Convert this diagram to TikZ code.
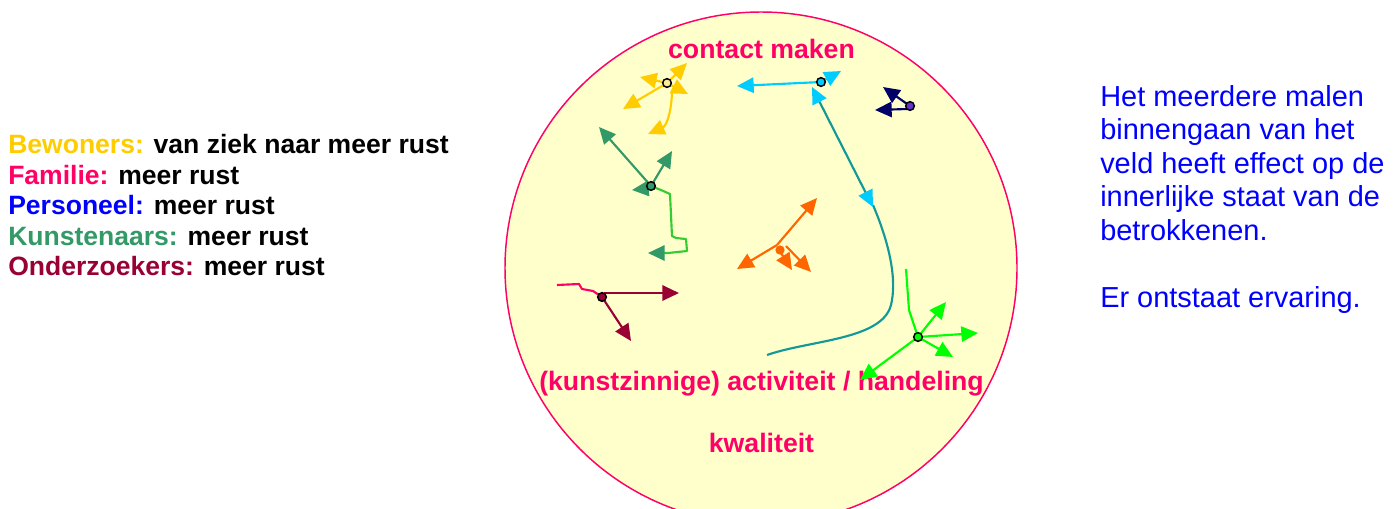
\documentclass[tikz,border=0pt]{standalone}
\usepackage{fontspec}
\setmainfont{Liberation Sans}
\usetikzlibrary{arrows.meta}
\usetikzlibrary{positioning}
\definecolor{roze}{HTML}{FF0066}
\definecolor{geel}{HTML}{FFCC00}
\definecolor{blauw}{HTML}{0000FF}
\definecolor{kunstgroen}{HTML}{339966}
\definecolor{bordeaux}{HTML}{990033}
\definecolor{veldgeel}{HTML}{FFFFCC}
\definecolor{cyaan}{HTML}{00CCFF}
\definecolor{petrol}{HTML}{119999}
\definecolor{navy}{HTML}{000066}
\definecolor{paars}{HTML}{6633CC}
\definecolor{oranje}{HTML}{FF6600}
\definecolor{lime}{HTML}{00FF00}
\definecolor{lichtgroen}{HTML}{33CC33}
\tikzset{punttip/.tip = {Triangle[length = 12.5pt, width = 11.5pt]}}
\tikzset{pijl/.style = {line width = 1.6pt, -punttip}}
\tikzset{spoor/.style = {line width = 1.6pt, line join = round}}
\tikzset{punt/.style = {draw = black, circle, line width = 1.1pt, inner sep = 0, minimum size = 6.5pt}}
\tikzset{legenda/.style = {anchor = base west, inner sep = 0, font = \fontsize{19.9}{22.9}\selectfont\bfseries}}
\tikzset{uitleg/.style = {anchor = base west, inner sep = 0, text = blauw, font = \fontsize{21.7}{25}\selectfont}}
\tikzset{veld/.style = {anchor = base, inner sep = 0, text = roze, font = \fontsize{20}{24}\selectfont\bfseries}}
\begin{document}
\begin{tikzpicture}[x = 0.75pt, y = -0.75pt]
          \useasboundingbox (0, 0) rectangle (1399, 508);
          \clip (0, 0) rectangle (1399, 508);
          \draw [roze, fill = veldgeel, line width = 1.1pt] (761, 268) circle [radius = 192pt];

          % legenda links
          \node [legenda] (bewoners) at (8, 153) {\color{geel}Bewoners: \color{black}van ziek naar meer rust};
          \node [legenda] (familie) at (8, 184) {\color{roze}Familie: \color{black}meer rust};
          \node [legenda] (personeel) at (8, 214) {\color{blauw}Personeel: \color{black}meer rust};
          \node [legenda] (kunstenaars) at (8, 245) {\color{kunstgroen}Kunstenaars: \color{black}meer rust};
          \node [legenda] (onderzoekers) at (8, 275) {\color{bordeaux}Onderzoekers: \color{black}meer rust};

          % uitleg rechts
          \node [uitleg] (regel1) at (1100, 106) {Het meerdere malen};
          \node [uitleg] (regel2) at (1100, 139) {binnengaan van het};
          \node [uitleg] (regel3) at (1100, 173) {veld heeft effect op de};
          \node [uitleg] (regel4) at (1100, 206.5) {innerlijke staat van de};
          \node [uitleg] (regel5) at (1100, 240) {betrokkenen.};
          \node [uitleg] (ervaring) at (1100, 307) {Er ontstaat ervaring.};

          % het veld
          \node [veld] (contact) at (761.5, 58) {contact maken};
          \node [veld] (activiteit) at (761.5, 390) {(kunstzinnige) activiteit / handeling};
          \node [veld] (kwaliteit) at (761.5, 452) {kwaliteit};

          \coordinate (geel) at (667, 83);
          \coordinate (cyaan) at (821, 82);
          \coordinate (navy) at (910, 106);
          \coordinate (kunst) at (651, 186);
          \coordinate (oranje) at (780, 250);
          \coordinate (bordeaux) at (602, 297);
          \coordinate (lime) at (918, 337);

          % bewoners
          \draw [pijl, geel] (geel) -- (640, 77);
          \draw [pijl, geel] (geel) -- (687, 63);
          \draw [pijl, geel] (geel) -- (688, 94);
          \draw [pijl, geel] (geel) -- (623, 109);
          \draw [pijl, geel] (672, 93) .. controls (671, 115) and (666, 126) .. (648, 134);

          % personeel
          \draw [pijl, cyaan] (cyaan) -- (737, 86);
          \draw [pijl, cyaan] (cyaan) -- (841, 71);
          \draw [spoor, petrol] (873, 205) .. controls (890, 245) and (897, 280) .. (891, 305)
            .. controls (882, 340) and (810, 340) .. (767, 355);
          \draw [spoor, petrol, {punttip[color = cyaan]}-{punttip[color = cyaan]}] (812, 87) -- (873, 207);
          \draw [pijl, navy] (navy) -- (883, 87);
          \draw [pijl, navy] (907, 109) -- (875, 110);

          % kunstenaars
          \draw [spoor, lichtgroen, -{punttip[color = kunstgroen]}] (kunst) -- (661, 190) -- (670, 194) -- (672, 236)
            -- (676, 238) -- (686, 239) -- (687, 251) -- (668, 253) -- (648, 253);
          \draw [pijl, kunstgroen] (kunst) -- (599, 127);
          \draw [pijl, kunstgroen] (kunst) -- (672, 151);
          \draw [pijl, kunstgroen] (653, 188) -- (632, 190);

          % familie
          \draw [pijl, oranje] (777, 245) -- (817, 198);
          \draw [pijl, oranje] (777, 245) -- (737, 269);
          \draw [pijl, oranje] (786, 246) -- (811, 272);
          \draw [pijl, oranje] (779, 250) -- (792, 270);

          % onderzoekers
          \draw [spoor, roze] (557, 285) -- (579, 284) -- (582, 289) -- (593, 291) -- (bordeaux);
          \draw [pijl, bordeaux] (604, 293) -- (679, 293);
          \draw [pijl, bordeaux] (bordeaux) -- (631, 341);

          % activiteit
          \draw [spoor, lime] (906, 269) -- (909, 310) -- (lime);
          \draw [pijl, lime] (lime) -- (946, 302);
          \draw [pijl, lime] (lime) -- (978, 333);
          \draw [pijl, lime] (lime) -- (953, 357);
          \draw [pijl, lime] (lime) -- (860, 380);

          \node [punt, fill = geel!40] (geelpunt) at (geel) {};
          \node [punt, fill = cyaan] (cyaanpunt) at (cyaan) {};
          \node [punt, fill = paars] (navypunt) at (navy) {};
          \node [punt, fill = kunstgroen] (kunstpunt) at (kunst) {};
          \node [circle, fill = oranje, inner sep = 0, minimum size = 7pt] (oranjepunt) at (oranje) {};
          \node [punt, fill = bordeaux] (bordeauxpunt) at (bordeaux) {};
          \node [punt, fill = lime] (limepunt) at (lime) {};
        \end{tikzpicture}
\end{document}
